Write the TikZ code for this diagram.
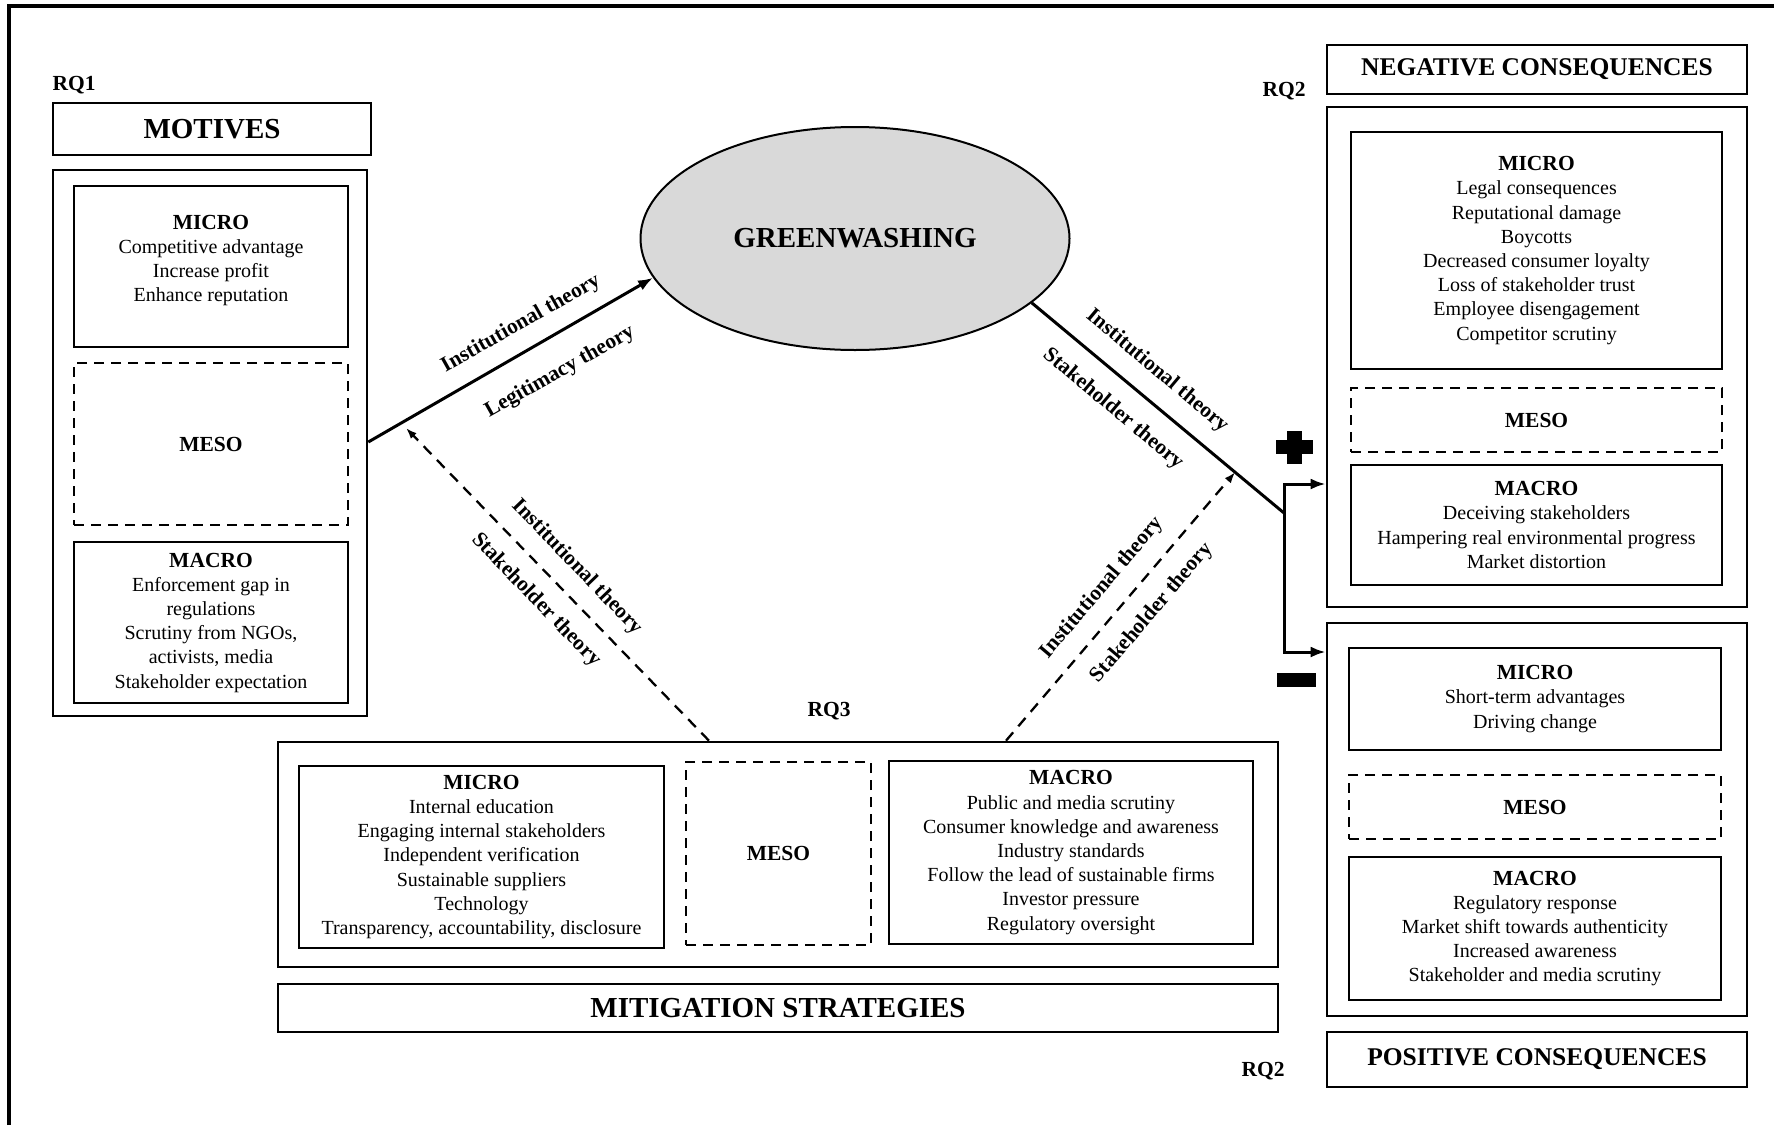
\documentclass[tikz,border=0pt]{standalone}
\usepackage{fontspec}
\setmainfont{Liberation Serif}
\usetikzlibrary{arrows.meta,shapes.geometric,calc}

% bold level heading inside a box
\newcommand{\lvlhead}[1]{{\fontsize{21.5}{24.2}\selectfont\bfseries #1}}

\begin{document}
\begin{tikzpicture}[x=1pt,y=-1pt,
  box/.style={draw, line width=2.6pt, rectangle, inner sep=0pt, align=center,
              font=\fontsize{20}{24.2}\selectfont},
  dbox/.style={box, dash pattern=on 10pt off 7pt, line width=2.4pt,
               font=\fontsize{21.5}{24.2}\selectfont\bfseries},
  bigtitle/.style={box, font=\fontsize{29}{30}\selectfont\bfseries},
  midtitle/.style={box, font=\fontsize{25.5}{27}\selectfont\bfseries},
  rq/.style={inner sep=0pt, font=\fontsize{21.5}{24}\selectfont\bfseries},
  lbl/.style={inner sep=0pt, font=\fontsize{21.5}{24}\selectfont\bfseries},
  conn/.style={line width=3pt},
  dconn/.style={line width=2.3pt, dash pattern=on 11pt off 8pt},
  tip/.style={-{Latex[length=15pt,width=11pt]}},
  smalltip/.style={-{Latex[length=11pt,width=8pt]}},
]
\useasboundingbox (0,0) rectangle (1774,1125);

% frame
\coordinate (fbl) at (9,1125);
\coordinate (ftl) at (9,6);
\coordinate (ftr) at (1774,6);
\draw[line width=3.5pt] (fbl) -- (ftl) -- (ftr);

% ---------- motives (left) ----------
\node[rq] (rq1) at (74,85) {RQ1};
\node[bigtitle, minimum width=318pt, minimum height=52pt] (mtitle) at (212,129) {MOTIVES};
\node[box, minimum width=314pt, minimum height=546pt] (mout) at (210,443) {};
\node[box, minimum width=274pt, minimum height=161pt] (mmicro) at (211,266.5)
  {\lvlhead{MICRO}\\Competitive advantage\\Increase profit\\Enhance reputation\\[-8pt]\mbox{}};
\node[dbox, minimum width=274pt, minimum height=162pt] (mmeso) at (211,444) {MESO};
\node[box, minimum width=274pt, minimum height=161pt] (mmacro) at (211,622.5)
  {\lvlhead{MACRO}\\Enforcement gap in\\regulations\\Scrutiny from NGOs,\\activists, media\\Stakeholder expectation};

% ---------- greenwashing ----------
\node[ellipse, draw, line width=2pt, fill=black!15, minimum width=429pt, minimum height=223pt,
      inner sep=0pt, font=\fontsize{29}{30}\selectfont\bfseries] (gw) at (855,238.5) {GREENWASHING};

% ---------- negative consequences (upper right) ----------
\node[rq] (rq2a) at (1284,91) {RQ2};
\node[midtitle, minimum width=420pt, minimum height=49pt] (ntitle) at (1537,69.5) {NEGATIVE CONSEQUENCES};
\node[box, minimum width=420pt, minimum height=500pt] (nout) at (1537,357) {};
\node[box, minimum width=371pt, minimum height=237pt] (nmicro) at (1536.5,250.5)
  {\lvlhead{MICRO}\\Legal consequences\\Reputational damage\\Boycotts\\Decreased consumer loyalty\\Loss of stakeholder trust\\Employee disengagement\\Competitor scrutiny};
\node[dbox, minimum width=371pt, minimum height=64pt] (nmeso) at (1536.5,420) {MESO};
\node[box, minimum width=371pt, minimum height=120pt] (nmacro) at (1536.5,525)
  {\lvlhead{MACRO}\\Deceiving stakeholders\\Hampering real environmental progress\\Market distortion};

% ---------- positive consequences (lower right) ----------
\node[box, minimum width=420pt, minimum height=393pt] (pout) at (1537,819.5) {};
\node[box, minimum width=372pt, minimum height=102pt] (pmicro) at (1535,699)
  {\lvlhead{MICRO}\\Short-term advantages\\Driving change};
\node[dbox, minimum width=372pt, minimum height=64pt] (pmeso) at (1535,807) {MESO};
\node[box, minimum width=372pt, minimum height=143pt] (pmacro) at (1535,928.5)
  {\lvlhead{MACRO}\\Regulatory response\\Market shift towards authenticity\\Increased awareness\\Stakeholder and media scrutiny};
\node[midtitle, minimum width=420pt, minimum height=55pt] (ptitle) at (1537,1059.5) {POSITIVE CONSEQUENCES};
\node[rq] (rq2b) at (1263,1071) {RQ2};

% ---------- mitigation strategies (bottom) ----------
\node[rq] (rq3) at (829,711) {RQ3};
\node[box, minimum width=1000pt, minimum height=225pt] (mitout) at (778,854.5) {};
\node[box, minimum width=365pt, minimum height=182pt] (mitmicro) at (481.5,857)
  {\lvlhead{MICRO}\\Internal education\\Engaging internal stakeholders\\Independent verification\\Sustainable suppliers\\Technology\\Transparency, accountability, disclosure};
\node[dbox, minimum width=185pt, minimum height=183pt] (mitmeso) at (778.5,853.5) {MESO};
\node[box, minimum width=364pt, minimum height=183pt] (mitmacro) at (1071,852.5)
  {\lvlhead{MACRO}\\Public and media scrutiny\\Consumer knowledge and awareness\\Industry standards\\Follow the lead of sustainable firms\\Investor pressure\\Regulatory oversight};
\node[bigtitle, minimum width=1000pt, minimum height=48pt] (mittitle) at (778,1008) {MITIGATION STRATEGIES};

% ---------- connectors ----------
\coordinate (ly) at (0,442);
\coordinate (mstart) at (mout.east |- ly);
\draw[conn,tip] (mstart) -- (gw.191);

\coordinate (j) at (1284,513);
\coordinate (jt) at (1284,484);
\coordinate (jb) at (1284,652);
\draw[conn] (gw.-20) -- (j);
\draw[conn,tip] (j) -- (jt) -- (jt -| nout.west);
\draw[conn,tip] (j) -- (jb) -- (jb -| pout.west);

% dashed feedback from the mitigation strategies
\coordinate (dlx) at (709,0);
\coordinate (drx) at (1006,0);
\coordinate (dltip) at (406,428);
\coordinate (drtip) at ($(gw.-20)!0.806!(j)$);
\draw[dconn,smalltip] (mitout.north -| dlx) -- (dltip);
\draw[dconn,smalltip] (mitout.north -| drx) -- (drtip);

% theory labels
\node[lbl, rotate=29.4] (t1) at (521,324) {Institutional theory};
\node[lbl, rotate=29.4] (t2) at (560,372) {Legitimacy theory};
\node[lbl, rotate=-46] (t3) at (577,567) {Institutional theory};
\node[lbl, rotate=-46] (t4) at (536,600) {Stakeholder theory};
\node[lbl, rotate=-40] (t5) at (1157,371) {Institutional theory};
\node[lbl, rotate=-40] (t6) at (1113,409) {Stakeholder theory};
\node[lbl, rotate=49.6] (t7) at (1102,588) {Institutional theory};
\node[lbl, rotate=49.6] (t8) at (1152,613) {Stakeholder theory};

% plus and minus signs
\fill (1276,440) rectangle (1313,454);
\fill (1287,431) rectangle (1302,464);
\fill (1277,673) rectangle (1316,687);
\end{tikzpicture}
\end{document}
